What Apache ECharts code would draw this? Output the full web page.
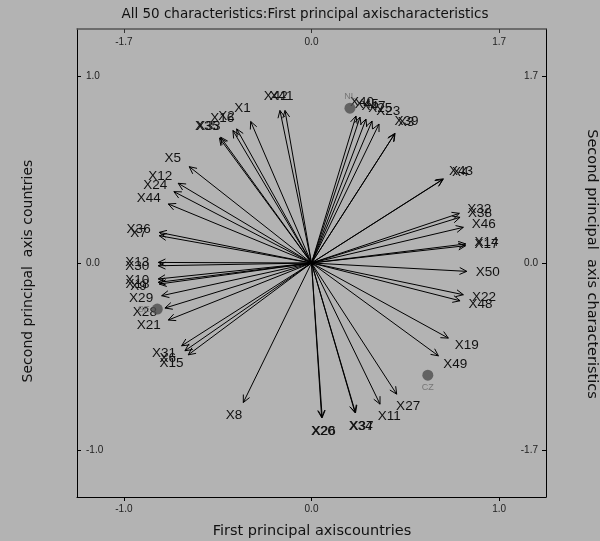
<!DOCTYPE html>
<html>
<head>
<meta charset="utf-8">
<script src="https://cdn.jsdelivr.net/npm/echarts@6/dist/echarts.min.js"></script>
<style>
  html, body { margin: 0; padding: 0; background: #b3b3b3; }
  #chart { width: 600px; height: 541px; }
</style>
</head>
<body>
<div id="chart"></div>
<script>
// Characteristic loadings (top / right axes, characteristic units)
const charNames = [
  'X1', 'X2', 'X16', 'X33', 'X35', 'X42', 'X41',
  'X5', 'X12', 'X24', 'X44', 'X36', 'X7',
  'X13', 'X30', 'X10', 'X18', 'X9', 'X29', 'X28', 'X21',
  'X31', 'X6', 'X15', 'X8',
  'X20', 'X26', 'X34', 'X37', 'X11', 'X27',
  'X49', 'X19', 'X48', 'X22', 'X50',
  'X17', 'X14', 'X46', 'X38', 'X32',
  'X43', 'X4', 'X39', 'X3',
  'X40', 'X45', 'X47', 'X25', 'X23'
];
const charX = [
  -0.551, -0.678, -0.712, -0.823, -0.834, -0.286, -0.240,
  -1.108, -1.208, -1.247, -1.298, -1.380, -1.380,
  -1.389, -1.389, -1.389, -1.389, -1.380, -1.358, -1.328, -1.298,
  -1.177, -1.147, -1.117, -0.618,
  0.092, 0.097, 0.394, 0.399, 0.621, 0.772,
  1.150, 1.240, 1.346, 1.376, 1.407,
  1.396, 1.398, 1.376, 1.346, 1.340,
  1.195, 1.188, 0.757, 0.753,
  0.403, 0.440, 0.494, 0.549, 0.612
];
const charY = [
  1.285, 1.218, 1.203, 1.142, 1.135, 1.385, 1.385,
  0.875, 0.724, 0.648, 0.536, 0.278, 0.248,
  0.005, -0.025, -0.145, -0.176, -0.191, -0.297, -0.409, -0.518,
  -0.752, -0.797, -0.834, -1.267,
  -1.404, -1.404, -1.358, -1.361, -1.282, -1.191,
  -0.843, -0.682, -0.343, -0.288, -0.076,
  0.157, 0.173, 0.324, 0.415, 0.451,
  0.764, 0.757, 1.178, 1.171,
  1.335, 1.325, 1.307, 1.289, 1.262
];

// Country scores (bottom / left axes, country units)
const countryNames = ['NL', 'CZ', 'SE'];
const countryX = [0.205, 0.620, -0.822];
const countryY = [0.827, -0.599, -0.246];
const countryLabelPos = ['top', 'bottom', 'left'];

// Tick values
const countryTicks = [-1.0, 0.0, 1.0];
const charTicks = [-1.7, 0.0, 1.7];

const FONT = '"Liberation Sans", Arial, sans-serif';
const NAME_FONT = '"DejaVu Sans", sans-serif';

const chart = echarts.init(document.getElementById('chart'));

function fmt(v) { return Number(v).toFixed(1); }

function arrowItem(params, api) {
  const o = api.coord([0, 0]);
  const t = api.coord([api.value(0), api.value(1)]);
  const dx = t[0] - o[0], dy = t[1] - o[1];
  const len = Math.sqrt(dx * dx + dy * dy) || 1;
  const ux = dx / len, uy = dy / len;
  const a = Math.atan2(dy, dx);
  const h = 8, s = 0.45;
  const p1 = [t[0] - h * Math.cos(a - s), t[1] - h * Math.sin(a - s)];
  const p2 = [t[0] - h * Math.cos(a + s), t[1] - h * Math.sin(a + s)];
  const name = charNames[params.dataIndex];
  return {
    type: 'group',
    children: [
      { type: 'line', shape: { x1: o[0], y1: o[1], x2: t[0], y2: t[1] },
        style: { stroke: '#000', lineWidth: 1 } },
      { type: 'polyline', shape: { points: [p1, t, p2] },
        style: { stroke: '#000', lineWidth: 1, fill: null } },
      { type: 'text',
        style: { text: name, x: t[0] + ux * 21, y: t[1] + uy * 14,
                 align: 'center', verticalAlign: 'middle',
                 font: '13.5px ' + FONT, fill: '#111' } }
    ]
  };
}

const option = {
  backgroundColor: '#b3b3b3',
  animation: false,
  grid: { left: 77, right: 54, top: 29, bottom: 44, show: false },
  xAxis: [
    {
      type: 'value', position: 'bottom', min: -1.25, max: 1.25,
      axisLine: { show: true, onZero: false, lineStyle: { color: '#000', width: 1 } },
      axisTick: { show: true, length: 4, customValues: countryTicks, lineStyle: { color: '#000' } },
      axisLabel: { customValues: countryTicks, formatter: fmt, fontSize: 10, color: '#222',
                   fontFamily: FONT, margin: 7 },
      splitLine: { show: false }
    },
    {
      type: 'value', position: 'top', min: -2.125, max: 2.125,
      axisLine: { show: true, onZero: false, lineStyle: { color: '#555', width: 1.5 } },
      axisTick: { show: true, inside: true, length: 4, customValues: charTicks, lineStyle: { color: '#333' } },
      axisLabel: { inside: true, customValues: charTicks, formatter: fmt, fontSize: 10, color: '#222',
                   fontFamily: FONT, margin: 8 },
      splitLine: { show: false }
    }
  ],
  yAxis: [
    {
      type: 'value', position: 'left', min: -1.25, max: 1.25,
      axisLine: { show: true, onZero: false, lineStyle: { color: '#000', width: 1 } },
      axisTick: { show: true, inside: true, length: 4, customValues: countryTicks, lineStyle: { color: '#000' } },
      axisLabel: { inside: true, customValues: countryTicks, formatter: fmt, fontSize: 10, color: '#222',
                   fontFamily: FONT, margin: 9 },
      splitLine: { show: false }
    },
    {
      type: 'value', position: 'right', min: -2.125, max: 2.125,
      axisLine: { show: true, onZero: false, lineStyle: { color: '#000', width: 1 } },
      axisTick: { show: true, inside: true, length: 4, customValues: charTicks, lineStyle: { color: '#000' } },
      axisLabel: { inside: true, customValues: charTicks, formatter: fmt, fontSize: 10, color: '#222',
                   fontFamily: FONT, margin: 8 },
      splitLine: { show: false }
    }
  ],
  graphic: [
    { type: 'text', x: 305, y: 14,
      style: { text: 'All 50 characteristics:First principal axischaracteristics',
               align: 'center', verticalAlign: 'middle', font: '13.5px ' + NAME_FONT, fill: '#111' } },
    { type: 'text', x: 312, y: 531,
      style: { text: 'First principal axiscountries',
               align: 'center', verticalAlign: 'middle', font: '14.5px ' + NAME_FONT, fill: '#111' } },
    { type: 'text', x: 28, y: 271, rotation: Math.PI / 2,
      style: { text: 'Second principal  axis countries',
               align: 'center', verticalAlign: 'middle', font: '14px ' + NAME_FONT, fill: '#111' } },
    { type: 'text', x: 592, y: 264, rotation: -Math.PI / 2,
      style: { text: 'Second principal  axis characteristics',
               align: 'center', verticalAlign: 'middle', font: '14.5px ' + NAME_FONT, fill: '#111' } }
  ],
  series: [
    {
      type: 'custom',
      xAxisIndex: 1, yAxisIndex: 1,
      renderItem: arrowItem,
      clip: false,
      data: charNames.map((n, i) => [charX[i], charY[i]]),
      z: 2
    },
    {
      type: 'scatter',
      xAxisIndex: 0, yAxisIndex: 0,
      symbolSize: 11,
      itemStyle: { color: '#4d4d4d' },
      data: countryNames.map((n, i) => ({
        name: n, value: [countryX[i], countryY[i]],
        label: { position: countryLabelPos[i] }
      })),
      label: { show: true, formatter: '{b}', fontSize: 9, color: '#666', fontFamily: FONT, distance: 2 },
      z: 3
    }
  ]
};

chart.setOption(option);
</script>
</body>
</html>
